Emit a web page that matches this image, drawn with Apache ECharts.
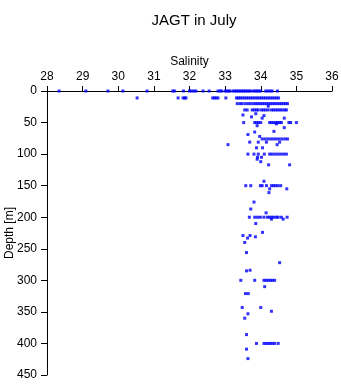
<!DOCTYPE html>
<html>
<head>
<meta charset="utf-8">
<script src="https://cdn.jsdelivr.net/npm/echarts@6/dist/echarts.min.js"></script>
<style>html,body{margin:0;padding:0;background:#fff;}#c{width:341px;height:384px;}</style>
</head>
<body>
<div id="c"></div>
<script>
var title = 'JAGT in July';
var xName = 'Salinity';
var yName = 'Depth [m]';
var xTicks = [28, 29, 30, 31, 32, 33, 34, 35, 36];
var yTicks = [0, 50, 100, 150, 200, 250, 300, 350, 400, 450];

// Observations: salinity and depth (m), parallel arrays
var salinity = [
  // 0 m
  28.34, 29.09, 29.71, 30.13, 30.81, 31.53, 31.58, 31.83, 32.0, 32.05, 32.12, 32.18, 32.38, 32.55, 32.8, 32.86, 32.9, 33.0, 33.04, 33.1, 33.13,
  33.22, 33.27, 33.32, 33.37, 33.42, 33.47, 33.52, 33.57, 33.62, 33.67, 33.72, 33.8, 33.85, 33.9, 33.95, 34.0, 34.14, 34.2, 34.26, 34.32, 34.47,
  // 10 m
  30.53, 31.68, 31.82, 31.87, 31.9, 32.65, 32.7, 32.75, 32.8, 33.02,
  33.32, 33.37, 33.42, 33.48, 33.54, 33.6, 33.66, 33.72, 33.78, 33.84, 33.9, 33.96, 34.02, 34.08, 34.14, 34.2, 34.26, 34.32, 34.38, 34.44, 34.5,
  // 20 m
  33.34, 33.42, 33.48, 33.57, 33.65, 33.72, 33.8, 33.86, 33.92, 33.98, 34.04, 34.1, 34.16, 34.22, 34.28, 34.34, 34.4, 34.46, 34.52, 34.58, 34.64, 34.7, 34.75, 34.21,
  // 30 m
  33.55, 33.62, 33.76, 33.82, 33.88, 33.93, 34.02, 34.08, 34.14, 34.21, 34.3, 34.36, 34.42, 34.48, 34.54, 34.6, 34.67, 34.72,
  33.86, 34.09, 33.5, 33.74, 34.04, 34.66,
  // 50 m
  33.52, 33.83, 33.88, 33.94, 34.0, 34.25, 34.3, 34.36, 34.42, 34.48, 34.53, 34.58, 34.79, 34.84, 35.0, 33.9, 34.44, 34.66,
  33.83, 34.37, 33.64, 33.97,
  // 75 m
  34.04, 34.12, 34.2, 34.28, 34.36, 34.44, 34.52, 34.6, 34.68, 34.75,
  33.69, 33.93, 34.16, 34.53, 33.08, 34.46, 34.05, 33.88,
  // 100 m
  33.64, 33.81, 33.93, 34.1, 34.25, 34.32, 34.4, 34.48, 34.56, 34.64, 34.72,
  33.91, 34.02, 33.9, 34.0, 34.22, 34.81, 34.09,
  // 150 m
  33.58, 33.72, 33.99, 34.04, 34.16, 34.3, 34.36, 34.42, 34.48, 34.56,
  34.25, 34.73, 34.23, 33.81, 33.72, 34.15,
  // 200 m
  33.68, 33.83, 33.91, 33.99, 34.09, 34.19, 34.25, 34.31, 34.37, 34.44, 34.49, 34.58, 34.74,
  34.3, 34.63, 33.86, 34.05, 33.5, 33.7, 33.85, 33.63, 33.55, 33.6, 34.53, 33.6, 33.7,
  // 300 m
  33.44, 33.83, 34.09, 34.15, 34.21, 34.27, 34.33, 34.39,
  34.11, 33.57, 33.65, 33.48, 34.0, 34.3, 33.64, 33.55, 33.6,
  // 400 m
  33.88, 34.09, 34.15, 34.21, 34.27, 34.33, 34.39, 34.49,
  33.6, 33.64
];
var depth = [
  0,0,0,0,0,0,0,0,0,0,0,0,0,0,0,0,0,0,0,0,0,
  0,0,0,0,0,0,0,0,0,0,0,0,0,0,0,0,0,0,0,0,0,
  11,11,11,11,11,11,11,11,11,11,
  11,11,11,11,11,11,11,11,11,11,11,11,11,11,11,11,11,11,11,11,11,
  20,20,20,20,20,20,20,20,20,20,20,20,20,20,20,20,20,20,20,20,20,20,20,24,
  30,30,30,30,30,30,30,30,30,30,30,30,30,30,30,30,30,30,
  36,39,38,41,43,43,
  50,50,50,50,50,50,50,50,50,50,50,50,50,50,50,55,52,58,
  65,64,69,72,
  76,76,76,76,76,76,76,76,76,76,
  81,81,81,81,85,85,90,90,
  100,100,100,100,100,100,100,100,100,100,100,
  105,105,108,112,117,117,143,
  150,150,150,150,150,150,150,150,150,150,
  155,155,161,176,187,193,
  200,200,200,200,200,200,200,200,200,200,200,200,200,
  203,203,210,224,229,229,231,233,240,256,272,285,284,
  300,300,300,300,300,300,300,300,
  310,321,321,343,343,349,353,360,386,
  400,400,400,400,400,400,400,400,
  409,424
];

var points = salinity.map(function (s, i) { return [s, depth[i]]; });

var font = 'Liberation Sans, Arial, sans-serif';
var chart = echarts.init(document.getElementById('c'), null, {renderer: 'canvas'});
chart.setOption({
  animation: false,
  backgroundColor: '#ffffff',
  title: {
    text: title, left: 189, top: 8, textAlign: 'center',
    textStyle: {fontFamily: font, fontSize: 15, fontWeight: 'normal', color: '#000'}
  },
  grid: {left: 47, right: 9, top: 91, bottom: 9, containLabel: false, outerBoundsMode: 'none'},
  xAxis: {
    type: 'value', position: 'top', min: xTicks[0], max: xTicks[xTicks.length - 1], interval: 1,
    name: xName, nameLocation: 'middle', nameGap: 23, nameMoveOverlap: false,
    nameTextStyle: {fontFamily: font, fontSize: 12, color: '#000'},
    axisLine: {show: true, onZero: false, lineStyle: {color: '#000', width: 1}},
    axisTick: {show: true, length: 5, lineStyle: {color: '#000'}},
    axisLabel: {fontFamily: font, fontSize: 12, color: '#000', margin: 8, showMinLabel: true, showMaxLabel: true},
    splitLine: {show: false}
  },
  yAxis: {
    type: 'value', inverse: true, min: yTicks[0], max: yTicks[yTicks.length - 1], interval: 50,
    name: yName, nameLocation: 'middle', nameGap: 31, nameRotate: 90, nameMoveOverlap: false,
    nameTextStyle: {fontFamily: font, fontSize: 12, color: '#000'},
    axisLine: {show: true, onZero: false, lineStyle: {color: '#000', width: 1}},
    axisTick: {show: true, length: 6, lineStyle: {color: '#000'}},
    axisLabel: {fontFamily: font, fontSize: 12, color: '#000', margin: 10, showMinLabel: true, showMaxLabel: true},
    splitLine: {show: false}
  },
  series: [{
    type: 'scatter', data: points, symbol: 'rect', symbolSize: 3,
    itemStyle: {color: '#0000ff'}, silent: true
  }]
});
</script>
</body>
</html>
